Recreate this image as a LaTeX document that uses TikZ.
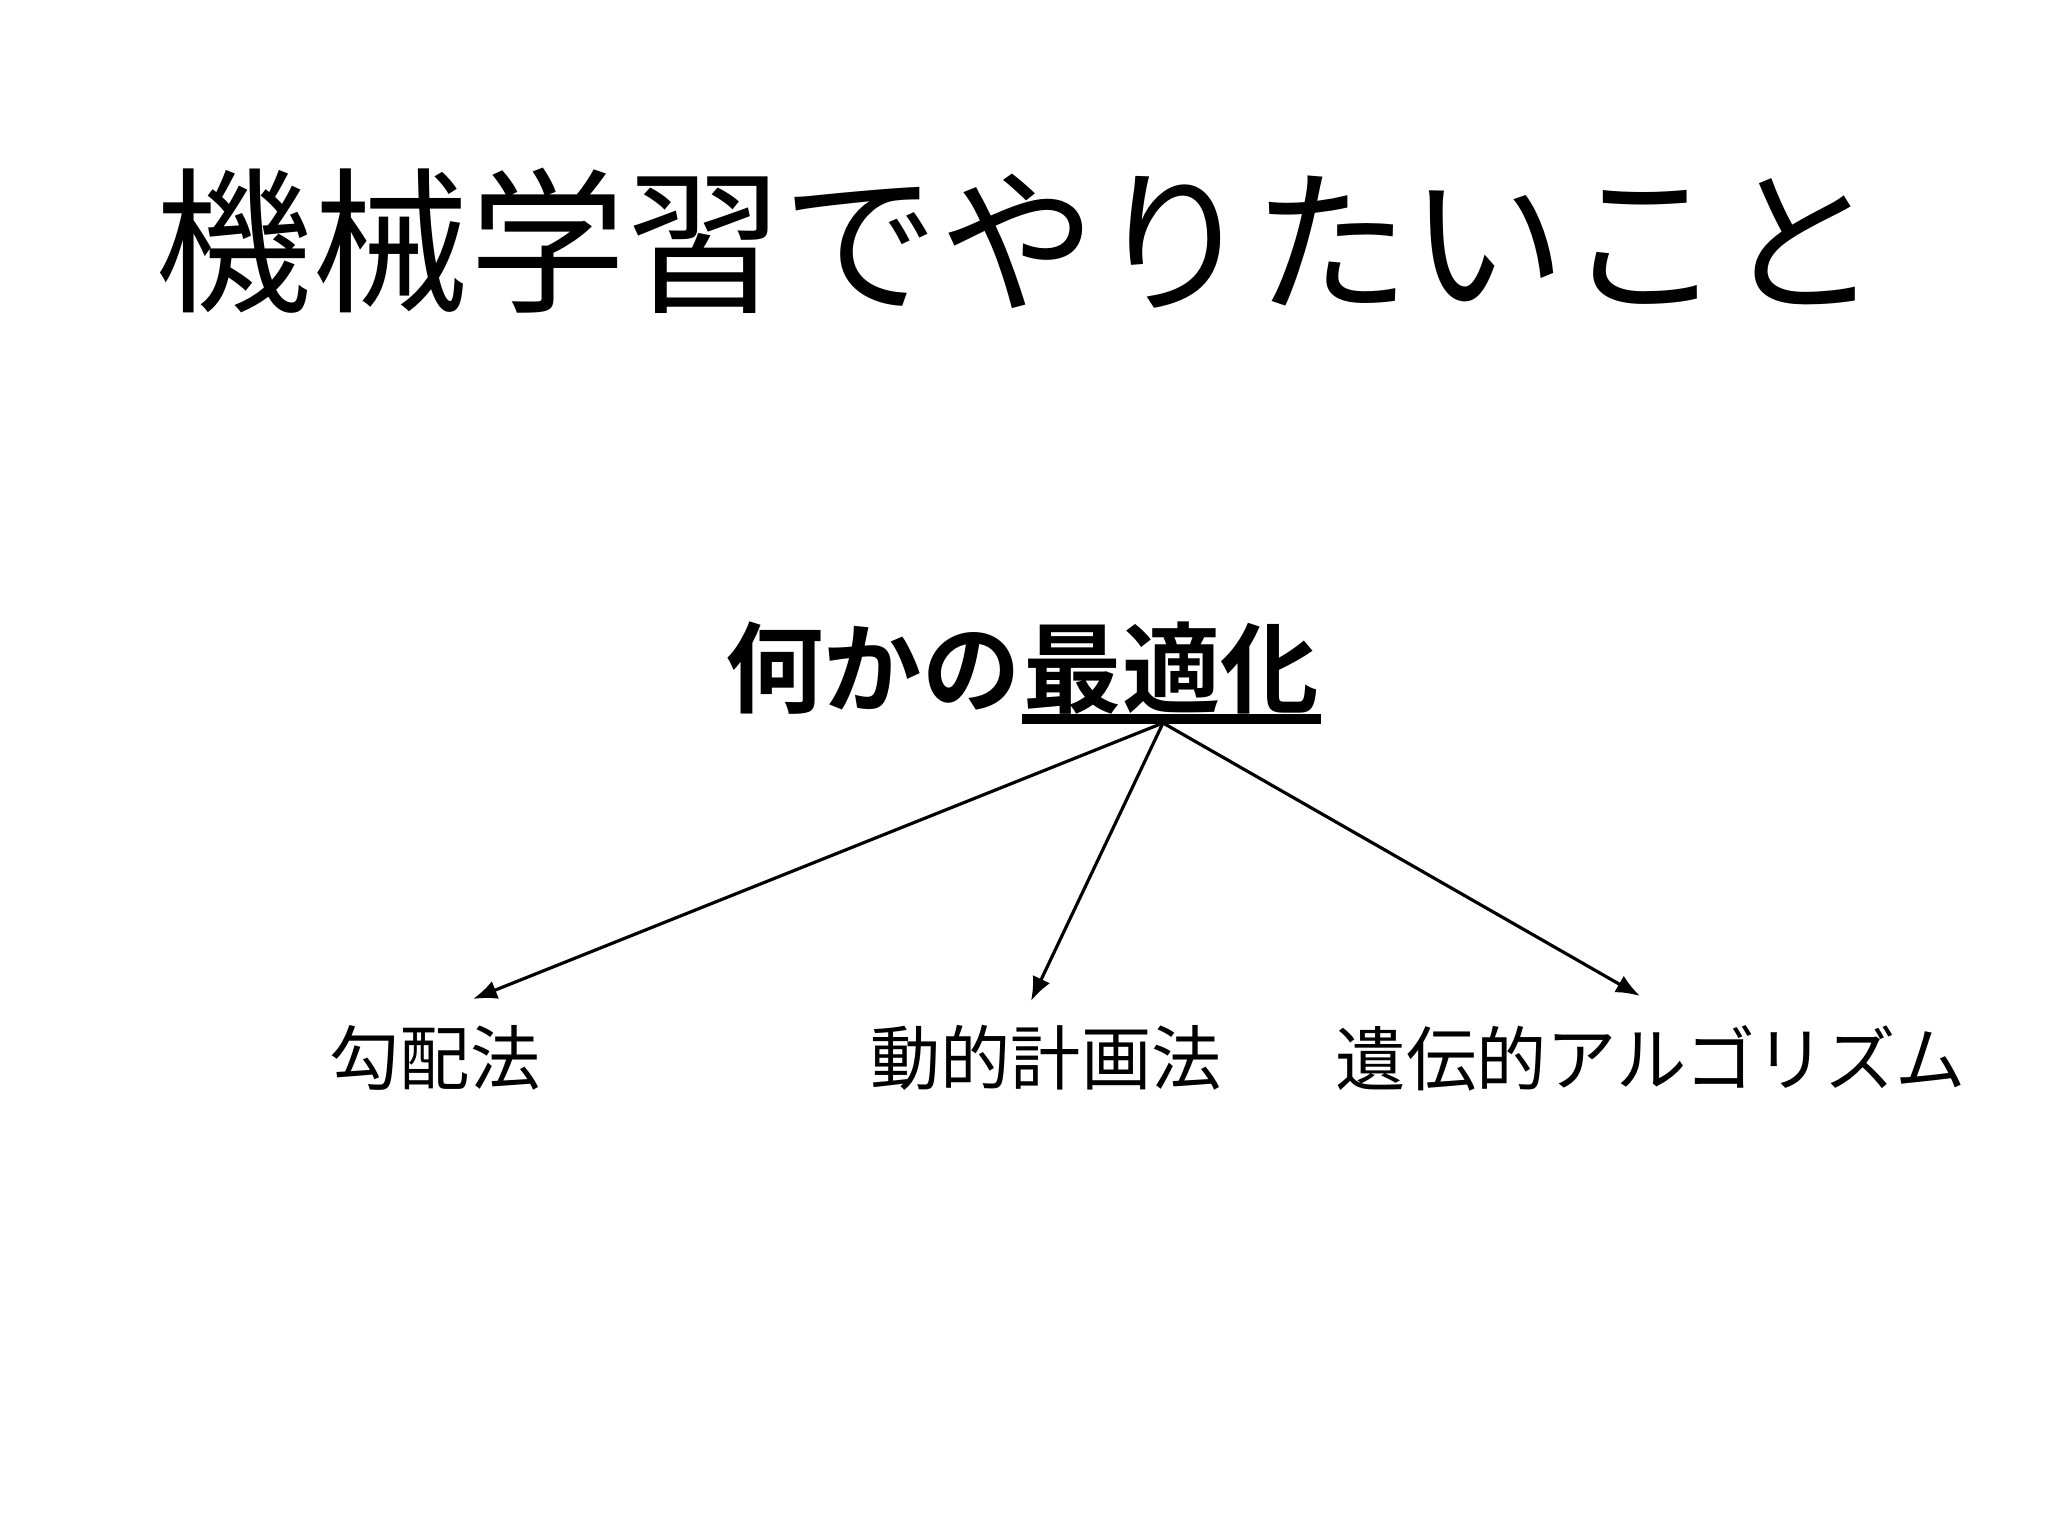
\documentclass[tikz,border=0pt]{standalone}
\usepackage{fontspec}
\setmainfont{Noto Sans CJK JP}[BoldFont={Noto Sans CJK JP Bold}]
\usepackage{tikz}
\usetikzlibrary{arrows.meta}
\usetikzlibrary{positioning}

\begin{document}
\begin{tikzpicture} [-{Latex[length=2.4mm,width=1.9mm]},line width=0.9pt,inner sep=0pt]

  \useasboundingbox (0,0) rectangle (20.48,15.36);

  \node (title) at (10.18,12.95) {\fontsize{44.6}{50}\selectfont 機械学習でやりたいこと};

  \node (what) at (8.73,8.68) [anchor=center] {\fontsize{28}{32}\selectfont\bfseries 何かの};
  \node (opt) [right=0pt of what] {\fontsize{28}{32}\selectfont\bfseries 最適化};
  \draw[-,line width=2.8pt] ([yshift=-0.3mm]opt.south west) -- ([yshift=-0.3mm]opt.south east);

  \node (grad) at (4.35,4.78) {\fontsize{20}{24}\selectfont 勾配法};
  \node (dp) at (10.46,4.78) {\fontsize{20}{24}\selectfont 動的計画法};
  \node (ga) at (16.51,4.78) {\fontsize{20}{24}\selectfont 遺伝的アルゴリズム};

  \coordinate (src) at (11.63,8.13);
  \coordinate (gradtip) at (4.73,5.37);
  \coordinate (dptip) at (10.31,5.35);
  \coordinate (gatip) at (16.40,5.40);

  \path
    (src) edge (gradtip)
          edge (dptip)
          edge (gatip);

\end{tikzpicture}
\end{document}
